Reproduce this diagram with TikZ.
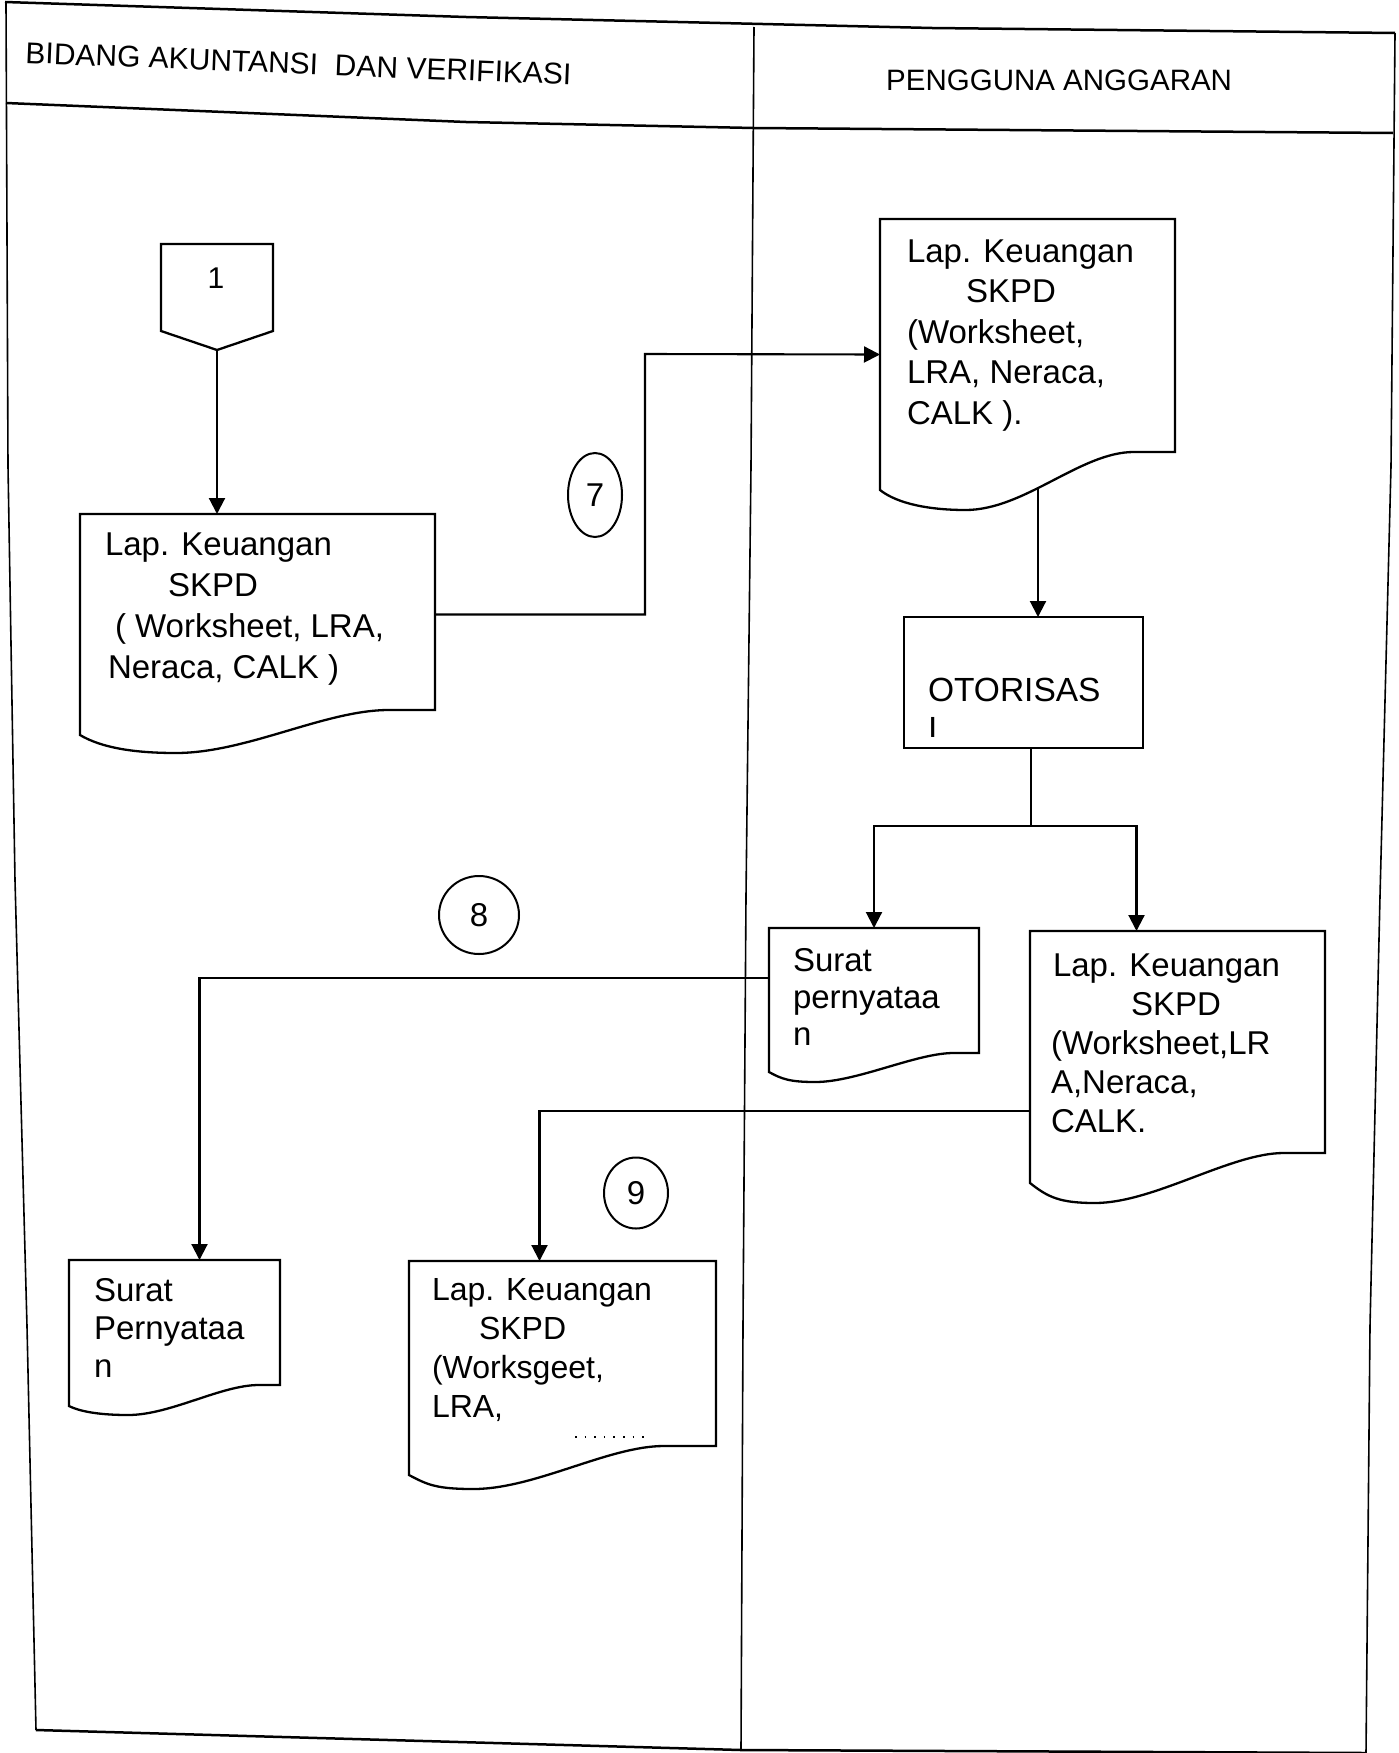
\documentclass[tikz,border=0pt]{standalone}
\usepackage{fontspec}
\setmainfont{Liberation Sans}
\usetikzlibrary{arrows.meta,calc,shapes.geometric}

% document outline: node name, rise of right bottom, dip depth, dip position, flat start
\newcommand{\docoutline}[5]{%
  \pgfmathsetmacro\docfA{#5-0.18}%
  \pgfmathsetmacro\docfB{#4+0.2}%
  \pgfmathsetmacro\docfC{#4-0.12}%
  \pgfmathsetmacro\docfD{#3*0.7}%
  \draw[shapeline] (#1.north west) -- (#1.north east) -- ($(#1.south east)+(0,-#2)$)
   -- ($(#1.south west)!#5!(#1.south east)+(0,-#2)$)
   .. controls ($(#1.south west)!\docfA!(#1.south east)+(0,-#2)$) and ($(#1.south west)!\docfB!(#1.south east)+(0,#3)$)
   .. ($(#1.south west)!#4!(#1.south east)+(0,#3)$)
   .. controls ($(#1.south west)!\docfC!(#1.south east)+(0,#3)$) and ($(#1.south west)!0.06!(#1.south east)+(0,\docfD)$)
   .. (#1.south west) -- cycle;}

\tikzset{
  shapeline/.style={line width=2.3pt, line join=miter},
  frameline/.style={line width=1.6pt},
  hline/.style={line width=2.5pt},
  conn/.style={line width=2.1pt},
  arr/.style={conn, -{Triangle[length=16pt,width=16pt]}},
  body/.style={inner sep=0pt, outer sep=0pt, anchor=north west, draw=none},
  txt/.style={inner sep=0pt, outer sep=0pt, anchor=north west, align=left},
  bubble/.style={ellipse, draw, line width=2pt, inner sep=0pt, font=\fontsize{33}{40}\selectfont},
}

\begin{document}
\begin{tikzpicture}[x=1pt,y=-1pt]
\useasboundingbox (0,0) rectangle (1399,1753);
\fill[white] (0,0) rectangle (1399,1753);

% ---- frame ----
\draw[hline] (5,2) -- (466,17) -- (932,28) -- (1395,33);
\draw[hline] (6,103) -- (466,122) -- (754,128) -- (1393,133);
\draw[frameline] (6,2) -- (8,466) -- (15,880) -- (27,1326) -- (36,1730);
\draw[frameline] (754,27) -- (751,466) -- (746,896) -- (743,1326) -- (741,1750);
\draw[frameline] (1395,33) -- (1391,466) -- (1380,896) -- (1370,1326) -- (1366,1753);
\draw[hline] (36,1730) -- (741,1750) -- (1366,1753);

% ---- headers ----
\node[anchor=base west, inner sep=0pt, rotate=-2.3, font=\fontsize{30}{36}\selectfont] (hleft) at (25,63) {BIDANG AKUNTANSI\ \ DAN VERIFIKASI};
\node[anchor=base west, inner sep=0pt, font=\fontsize{29.5}{36}\selectfont] (hright) at (886,90) {PENGGUNA ANGGARAN};

% ---- off-page connector 1 ----
\node[body, minimum width=112pt, minimum height=87pt] (off1) at (161,244) {};
\coordinate (off1tip) at ($(off1.south)+(0,19)$);
\draw[shapeline] (off1.north west) -- (off1.north east) -- (off1.south east) -- (off1tip) -- (off1.south west) -- cycle;
\node[inner sep=0pt, font=\fontsize{30}{36}\selectfont] (n1) at (216,278) {1};

% ---- left Lap. Keuangan ----
\node[body, minimum width=355pt, minimum height=221pt] (lk1) at (80,514) {};
\docoutline{lk1}{25}{18}{0.27}{0.87}
\node[txt, font=\fontsize{33}{41}\selectfont] (t1) at (105,533) {Lap. Keuangan\\\hspace*{63pt}SKPD\\\hspace*{10pt}( Worksheet, LRA,\\\hspace*{3pt}Neraca, CALK )};

% ---- right Lap. Keuangan (top) ----
\node[body, minimum width=295pt, minimum height=271pt] (lk2) at (880,219) {};
\docoutline{lk2}{38}{20}{0.29}{0.86}
\node[txt, font=\fontsize{33}{40.5}\selectfont] (t2) at (907,239.4) {Lap. Keuangan\\\hspace*{59pt}SKPD\\(Worksheet,\\LRA, Neraca,\\CALK ).};

% ---- OTORISASI ----
\node[body, draw, shapeline, minimum width=239pt, minimum height=131pt] (oto) at (904,617) {};
\begin{scope}
  \clip (oto.north west) rectangle ($(oto.south east)+(0,-12)$);
  \node[txt, font=\fontsize{33.5}{39}\selectfont] (toto) at (928,678) {OTORISAS\\I};
\end{scope}

% ---- Surat pernyataan (right) ----
\node[body, minimum width=210pt, minimum height=144pt] (sp1) at (769,928) {};
\docoutline{sp1}{19}{10}{0.22}{0.88}
\node[txt, font=\fontsize{33}{37}\selectfont] (tsp1) at (793,948.4) {Surat\\pernyataa\\n};

% ---- Lap. Keuangan (right lower) ----
\node[body, minimum width=295pt, minimum height=252pt] (lk3) at (1030,931) {};
\docoutline{lk3}{30}{20}{0.22}{0.86}
\node[txt, font=\fontsize{33}{39}\selectfont] (t3) at (1051,953.4) {\hspace*{2pt}Lap. Keuangan\\\hspace*{80pt}SKPD\\(Worksheet,LR\\A,Neraca,\\CALK.};

% ---- Surat Pernyataan (left) ----
\node[body, minimum width=211pt, minimum height=146pt] (sp2) at (69,1260) {};
\docoutline{sp2}{21}{9}{0.28}{0.90}
\node[txt, font=\fontsize{33}{38}\selectfont] (tsp2) at (94,1278.4) {Surat\\Pernyataa\\n};

% ---- Lap. Keuangan (left lower) ----
\node[body, minimum width=307pt, minimum height=214pt] (lk4) at (409,1261) {};
\docoutline{lk4}{29}{14}{0.21}{0.83}
\node[txt, font=\fontsize{32}{39}\selectfont] (t4) at (432,1278.4) {Lap. Keuangan\\\hspace*{47pt}SKPD\\(Worksgeet,\\LRA,};
\draw[line width=1.6pt, dash pattern=on 1.6pt off 8pt] (575,1437) -- (648,1437);

% ---- numbered circles ----
\node[bubble, minimum width=54pt, minimum height=84pt] (c7) at (595,495) {7};
\node[bubble, minimum width=80pt, minimum height=78pt] (c8) at (479,915) {8};
\node[bubble, minimum width=64pt, minimum height=71pt] (c9) at (636,1193) {9};

% ---- connectors ----
\draw[arr] (off1tip) -- (off1tip |- lk1.north);
\coordinate (j7) at (645,354);
\draw[arr] ([yshift=10pt]lk1.east) -| (j7) -- (lk2.west);
\coordinate (lk2out) at (1038,487);
\draw[arr] (lk2out) -- (lk2out |- oto.north);
\coordinate (split) at (1031,826);
\draw[conn] (oto.south -| split) -- (split);
\draw[arr] (split) -| (sp1.north);
\draw[arr] (split) -| ([xshift=-41pt]lk3.north);
\draw[arr] ([yshift=22pt]sp1.west) -| ([xshift=25pt]sp2.north);
\draw[arr] ([yshift=-54pt]lk3.west) -| ([xshift=-23pt]lk4.north);
\end{tikzpicture}
\end{document}
